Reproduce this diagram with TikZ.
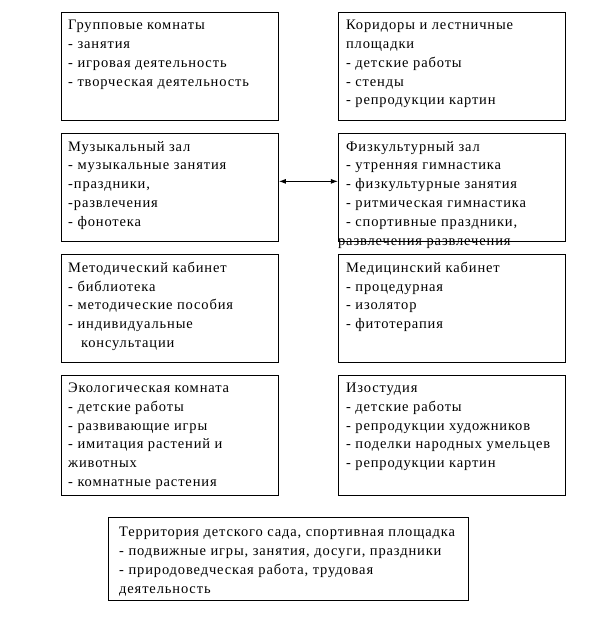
\documentclass[tikz,border=0pt]{standalone}
\usepackage{fontspec}
\setmainfont{Liberation Serif}
\newfontfamily\roomfont[LetterSpace=6]{Liberation Serif}
\usetikzlibrary{arrows.meta,positioning}

\begin{document}
\begin{tikzpicture}[x=1pt,y=-1pt,>={Latex[length=7pt,width=5pt]},
room/.style={draw,line width=0.9pt,inner sep=0pt,minimum width=217pt,minimum height=108pt},
wideroom/.style={room,minimum width=227pt},
roomtext/.style={anchor=north west,inner sep=0pt,align=left,font={\roomfont\fontsize{14.5}{18.8}\selectfont}}]
\useasboundingbox (0,0) rectangle (613,625);
% rooms, two columns
\node[room,anchor=north west] (grp) at (61,12) {};
\node[wideroom,right=59pt of grp] (kor) {};
\node[room,below=12pt of grp] (muz) {};
\node[wideroom,right=59pt of muz] (fiz) {};
\node[room,below=12pt of muz] (met) {};
\node[wideroom,right=59pt of met] (med) {};
\node[room,minimum height=120pt,below=12pt of met] (eko) {};
\node[wideroom,minimum height=120pt,right=59pt of eko] (izo) {};
\node[room,minimum width=360pt,minimum height=83pt,anchor=north west] (ter) at (108,517) {};
% texts
\node[roomtext] (grp-t) at ([shift={(7,8)}]grp.north west) {Групповые комнаты\\- занятия\\- игровая деятельность\\- творческая деятельность};
\node[roomtext] (kor-t) at ([shift={(8,8)}]kor.north west) {Коридоры и лестничные\\площадки\\- детские работы\\- стенды\\- репродукции картин};
\node[roomtext] (muz-t) at ([shift={(7,8)}]muz.north west) {Музыкальный зал\\- музыкальные занятия\\-праздники,\\-развлечения\\- фонотека};
\node[roomtext] (fiz-t) at ([shift={(8,8)}]fiz.north west) {Физкультурный зал\\- утренняя гимнастика\\- физкультурные занятия\\- ритмическая гимнастика\\- спортивные праздники,\\\hspace*{-8pt}развлечения развлечения};
\node[roomtext] (met-t) at ([shift={(7,8)}]met.north west) {Методический кабинет\\- библиотека\\- методические пособия\\- индивидуальные\\\hspace*{13pt}консультации};
\node[roomtext] (med-t) at ([shift={(8,8)}]med.north west) {Медицинский кабинет\\- процедурная\\- изолятор\\- фитотерапия};
\node[roomtext] (eko-t) at ([shift={(7,8)}]eko.north west) {Экологическая комната\\- детские работы\\- развивающие игры\\- имитация растений и\\животных\\- комнатные растения};
\node[roomtext] (izo-t) at ([shift={(8,8)}]izo.north west) {Изостудия\\- детские работы\\- репродукции художников\\- поделки народных умельцев\\- репродукции картин};
\node[roomtext] (ter-t) at ([shift={(11,10)}]ter.north west) {Территория детского сада, спортивная площадка\\- подвижные игры, занятия, досуги, праздники\\- природоведческая работа, трудовая\\деятельность};
\draw[<->,line width=0.9pt] ([yshift=6pt]muz.east) -- ([yshift=6pt]fiz.west);
\end{tikzpicture}
\end{document}
